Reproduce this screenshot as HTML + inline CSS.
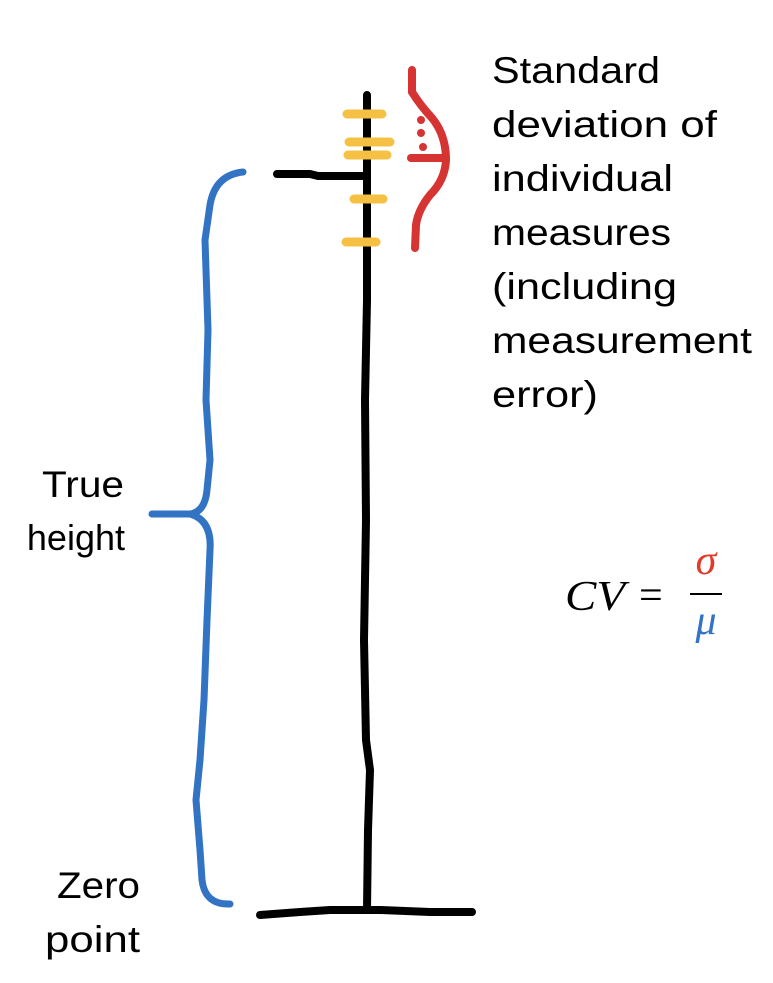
<!DOCTYPE html>
<html><head><meta charset="utf-8"><style>
body{margin:0;background:#fff;}
svg{display:block;}
text{font-family:"Liberation Sans",sans-serif;font-size:37px;fill:#000;}
</style></head><body>
<svg width="773" height="983" viewBox="0 0 773 983">
<g stroke="#000" stroke-width="8" fill="none" stroke-linecap="round" stroke-linejoin="round">
<path d="M367 95 L367 300 L365 400 L366 520 L364 640 L366 740 L370 770 L368 830 L367 910"/>
<path d="M260 915 L300 912 L330 910 L380 910 L430 912 L472 912"/>
<path d="M277 174 L310 174 L318 176 L367 176"/>
</g>
<g stroke="#f5c043" stroke-width="9" stroke-linecap="round">
<line x1="347" y1="114" x2="382" y2="114"/>
<line x1="349" y1="142" x2="390" y2="142"/>
<line x1="348" y1="155" x2="387" y2="155"/>
<line x1="354" y1="199" x2="383" y2="199"/>
<line x1="346" y1="242" x2="376" y2="242"/>
</g>
<g stroke="#d63333" stroke-width="8" fill="none" stroke-linecap="round">
<path d="M412 70 L412 92 Q420 105 432 118 Q446 135 446 160 Q445 180 430 195 Q418 210 416 225 L415 248"/>
<line x1="411" y1="158" x2="443" y2="158"/>
</g>
<g fill="#d63333">
<circle cx="421" cy="120" r="4"/><circle cx="421" cy="133" r="4"/><circle cx="423" cy="147" r="4"/>
</g>
<path d="M243 172 Q215 175 210 205 L205 240 L208 330 L206 400 L210 460 L207 490 Q205 512 190 514 L152 514 M190 514 Q212 520 210 550 L207 620 L204 700 L200 760 L196 800 L200 850 L202 880 Q205 905 230 904" stroke="#3273c4" stroke-width="7" fill="none" stroke-linecap="round" stroke-linejoin="round"/>
<g>
<text x="492" y="83" textLength="168" lengthAdjust="spacingAndGlyphs">Standard</text>
<text x="492" y="137" textLength="225" lengthAdjust="spacingAndGlyphs">deviation of</text>
<text x="492" y="191" textLength="181" lengthAdjust="spacingAndGlyphs">individual</text>
<text x="492" y="245" textLength="179" lengthAdjust="spacingAndGlyphs">measures</text>
<text x="492" y="299" textLength="185" lengthAdjust="spacingAndGlyphs">(including</text>
<text x="492" y="353" textLength="260" lengthAdjust="spacingAndGlyphs">measurement</text>
<text x="492" y="407" textLength="106" lengthAdjust="spacingAndGlyphs">error)</text>
</g>
<g>
<text x="42" y="497" textLength="82" lengthAdjust="spacingAndGlyphs">True</text>
<text x="125" y="550" text-anchor="end" style="font-size:36px">height</text>
</g>
<g>
<text x="57" y="898" textLength="83" lengthAdjust="spacingAndGlyphs">Zero</text>
<text x="45" y="952" textLength="95" lengthAdjust="spacingAndGlyphs">point</text>
</g>
<g>
<text x="565" y="610" textLength="60" lengthAdjust="spacingAndGlyphs" style="font-family:'Liberation Serif',serif;font-style:italic;font-size:42px">CV</text>
<text x="639" y="609" style="font-family:'Liberation Serif',serif;font-size:42px">=</text>
<line x1="690" y1="594" x2="722" y2="594" stroke="#000" stroke-width="2"/>
<text x="706" y="574" text-anchor="middle" style="font-family:'Liberation Serif',serif;font-style:italic;font-size:42px;fill:#e03a2a">σ</text>
<text x="706" y="634" text-anchor="middle" style="font-family:'Liberation Serif',serif;font-style:italic;font-size:42px;fill:#3273c4">μ</text>
</g>
</svg>
</body></html>
